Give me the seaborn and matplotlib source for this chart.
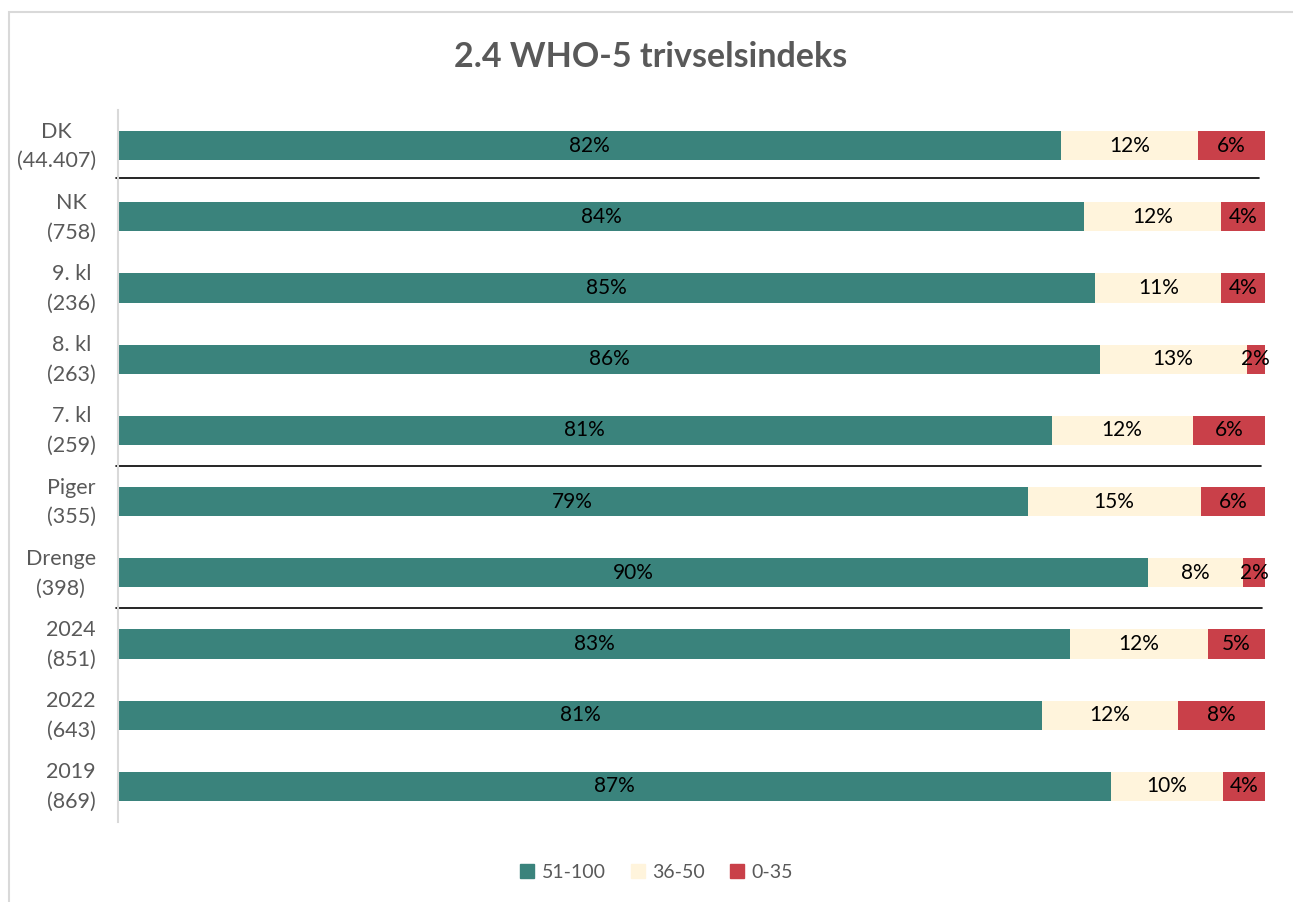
import matplotlib
matplotlib.use("Agg")
import matplotlib.pyplot as plt
import matplotlib.patches as mpatches
import matplotlib.transforms as mtransforms
import seaborn as sns
import pandas as pd
import numpy as np

# Groups and respondent counts
categories = ["DK", "NK", "9. kl", "8. kl", "7. kl", "Piger", "Drenge", "2024", "2022", "2019"]
counts = ["44.407", "758", "236", "263", "259", "355", "398", "851", "643", "869"]

# Share of pupils (%) in each WHO-5 score band
high = [82.2, 84.2, 85.2, 85.6, 81.4, 79.3, 89.8, 83.0, 80.6, 86.6]   # 51-100
mid = [12.0, 12.0, 11.0, 12.8, 12.3, 15.1, 8.3, 12.0, 11.8, 9.7]     # 36-50
low = [5.8, 3.8, 3.8, 1.6, 6.3, 5.6, 1.9, 5.0, 7.6, 3.7]             # 0-35

series_names = ["51-100", "36-50", "0-35"]
colors = ["#3A837C", "#FFF4DC", "#C94049"]

tick_labels = [f"{c}\n({n})" for c, n in zip(categories, counts)]

df = pd.DataFrame({"label": tick_labels, "high": high, "mid": mid, "low": low})
df["cum_mid"] = df["high"] + df["mid"]
df["cum_low"] = df["cum_mid"] + df["low"]

sns.set_theme(style="white")
plt.rcParams["font.family"] = ["Lato", "DejaVu Sans"]

fig = plt.figure(figsize=(12.93, 9.02), dpi=100)
ax = fig.add_axes([0.0913, 0.0887, 0.8870, 0.7894])

# Stacked bars: draw cumulative totals back to front
bar_w = 0.41
sns.barplot(data=df, y="label", x="cum_low", color=colors[2], orient="h",
            width=bar_w, saturation=1, ax=ax, linewidth=0)
sns.barplot(data=df, y="label", x="cum_mid", color=colors[1], orient="h",
            width=bar_w, saturation=1, ax=ax, linewidth=0)
sns.barplot(data=df, y="label", x="high", color=colors[0], orient="h",
            width=bar_w, saturation=1, ax=ax, linewidth=0)

# Segment value labels
for i, row in df.iterrows():
    starts = [0, row["high"], row["cum_mid"]]
    vals = [row["high"], row["mid"], row["low"]]
    for s, v in zip(starts, vals):
        ax.text(s + v / 2, i, f"{v:.0f}%", ha="center", va="center",
                fontsize=15, color="black")

ax.set_xlim(0, 100)
ax.set_ylim(len(categories) - 0.5, -0.5)
ax.set_xlabel("")
ax.set_ylabel("")
ax.set_xticks([])
ax.tick_params(axis="y", length=0, pad=16, labelsize=15.5, labelcolor="#595959")
lift = mtransforms.ScaledTranslation(0, 6 / 100, fig.dpi_scale_trans)
for lab in ax.get_yticklabels():
    lab.set_multialignment("center")
    lab.set_linespacing(1.6)
    lab.set_transform(lab.get_transform() + lift)

for side in ["top", "right", "bottom"]:
    ax.spines[side].set_visible(False)
ax.spines["left"].set_color("#D9D9D9")
ax.spines["left"].set_linewidth(1.5)

# Group separators
for y, xmax in [(0.46, 0.9948), (4.5, 0.9965), (6.5, 0.9975)]:
    ax.axhline(y, xmin=-0.002, xmax=xmax, color="black", linewidth=1.2, clip_on=False)

fig.text(0.503, 0.937, "2.4 WHO-5 trivselsindeks", ha="center", va="center",
         fontsize=24.5, fontweight="bold", color="#595959")

handles = [mpatches.Patch(color=c, label=n) for c, n in zip(colors, series_names)]
fig.legend(handles=handles, loc="center", bbox_to_anchor=(0.508, 0.033), ncol=3,
           frameon=False, fontsize=14, labelcolor="#595959", handlelength=0.7,
           handleheight=0.7, handletextpad=0.4, columnspacing=1.3)

# Chart frame
fig.patches.append(mpatches.Rectangle((9 / 1293, -0.05), 1.1, 1 - 12 / 902 + 0.05,
                                      transform=fig.transFigure, fill=False,
                                      edgecolor="#D9D9D9", linewidth=1.5))

fig.savefig("out.png", dpi=100, facecolor="white")
